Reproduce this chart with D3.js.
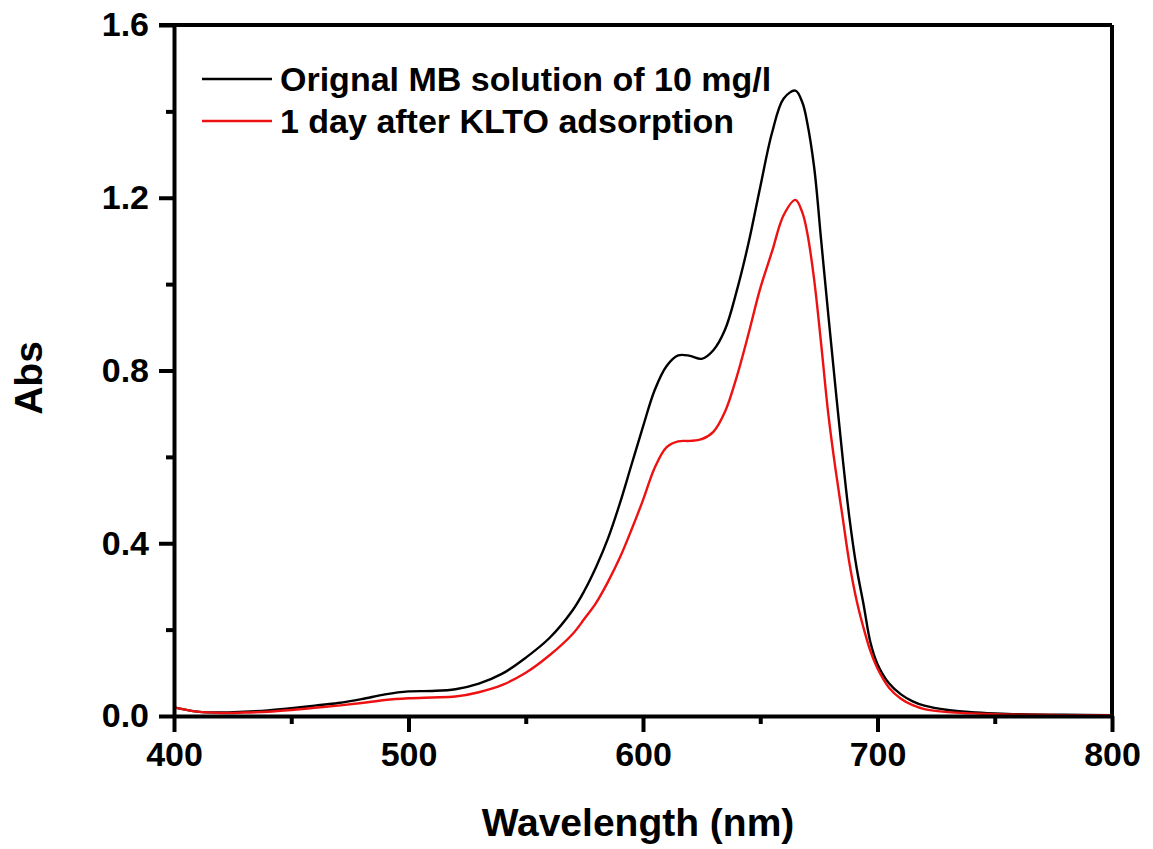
<!DOCTYPE html>
<html>
<head>
<meta charset="utf-8">
<script src="https://cdn.jsdelivr.net/npm/d3@7"></script>
<style>
  body { margin: 0; background: #fff; }
  text { font-family: "Liberation Sans", Arial, sans-serif; font-weight: bold; }
</style>
</head>
<body>
<div id="chart"></div>
<script>
// données
const longueurs = [400, 410, 420, 430, 440, 450, 460, 470, 480, 490, 500, 510, 520, 530, 540, 550, 560, 570, 575, 580,
    585, 590, 595, 600, 605, 610, 615, 620, 625, 630, 635, 640, 645, 650, 655, 660, 665, 668, 670, 673, 676,
    679, 682, 685, 688, 691, 694, 697, 700, 705, 710, 715, 720, 730, 740, 750, 760, 780, 800];

const origine = [0.020, 0.010, 0.008, 0.010, 0.013, 0.018, 0.024, 0.030, 0.039, 0.050, 0.057, 0.058, 0.062, 0.075, 0.098, 0.135, 0.180, 0.245, 0.290, 0.345,
    0.410, 0.490, 0.580, 0.670, 0.755, 0.810, 0.835, 0.834, 0.827, 0.847, 0.895, 0.985, 1.095, 1.225, 1.350, 1.430, 1.448, 1.420, 1.375, 1.270, 1.100,
    0.930, 0.765, 0.605, 0.460, 0.346, 0.260, 0.170, 0.120, 0.075, 0.050, 0.034, 0.024, 0.014, 0.009, 0.006, 0.004, 0.003, 0.002];

const apresKLTO = [0.020, 0.010, 0.007, 0.008, 0.010, 0.014, 0.019, 0.024, 0.030, 0.037, 0.041, 0.043, 0.045, 0.055, 0.072, 0.100, 0.140, 0.190, 0.225, 0.262,
    0.310, 0.365, 0.430, 0.500, 0.575, 0.622, 0.636, 0.637, 0.641, 0.658, 0.705, 0.786, 0.885, 0.990, 1.075, 1.160, 1.195, 1.165, 1.120, 1.010, 0.860,
    0.700, 0.575, 0.465, 0.355, 0.270, 0.205, 0.150, 0.110, 0.065, 0.040, 0.025, 0.016, 0.009, 0.006, 0.004, 0.003, 0.002, 0.002];

const series = [
    { nom: "Orignal MB solution of 10 mg/l", valeurs: origine, couleur: "#000000" },
    { nom: "1 day after KLTO adsorption", valeurs: apresKLTO, couleur: "#ee1111" }
];

const ticksX = [400, 500, 600, 700, 800];
const ticksY = [0.0, 0.4, 0.8, 1.2, 1.6];

//marges
var margin = { top: 25, right: 41, bottom: 133, left: 174 },
    width = 1153 - margin.left - margin.right,
    height = 849 - margin.top - margin.bottom;

const svg = d3.select("#chart")
    .append("svg")
    .attr("width", 1153)
    .attr("height", 849)
    .append("g")
    .attr("transform", "translate(" + margin.left + "," + margin.top + ")");

var x = d3.scaleLinear().domain([400, 800]).range([0, width]);
var y = d3.scaleLinear().domain([0, 1.6]).range([height, 0]);

// courbes
const ligne = d3.line()
    .x((d, i) => x(longueurs[i]))
    .y(d => y(d))
    .curve(d3.curveCatmullRom.alpha(0.5));

series.forEach(s => {
    svg.append("path")
        .attr("d", ligne(s.valeurs))
        .attr("fill", "none")
        .attr("stroke", s.couleur)
        .attr("stroke-width", 2.4);
});

// cadre haut et droite
svg.append("line")
    .attr("x1", -15).attr("x2", width)
    .attr("y1", 0).attr("y2", 0)
    .attr("stroke", "#000").attr("stroke-width", 4);
svg.append("line")
    .attr("x1", width).attr("x2", width)
    .attr("y1", 0).attr("y2", height)
    .attr("stroke", "#000").attr("stroke-width", 4);

// petites graduations
svg.append("g")
    .attr("transform", "translate(0," + height + ")")
    .call(d3.axisBottom(x).tickValues(d3.range(450, 800, 100)).tickSize(8).tickFormat(""))
    .call(g => g.select(".domain").remove())
    .selectAll("line").attr("stroke-width", 4);
svg.append("g")
    .call(d3.axisLeft(y).tickValues([0.2, 0.6, 1.0, 1.4]).tickSize(8).tickFormat(""))
    .call(g => g.select(".domain").remove())
    .selectAll("line").attr("stroke-width", 4);

// Axe x
const axeX = svg.append("g")
    .attr("transform", "translate(0," + height + ")")
    .call(d3.axisBottom(x).tickValues(ticksX).tickSize(16).tickSizeOuter(0).tickPadding(10).tickFormat(d3.format("d")));
axeX.select(".domain").attr("stroke-width", 4);
axeX.selectAll("line").attr("stroke-width", 4);
axeX.selectAll("text").attr("font-size", 34).attr("fill", "#000");

// Axe y
const axeY = svg.append("g")
    .call(d3.axisLeft(y).tickValues(ticksY).tickSize(15).tickSizeOuter(0).tickPadding(10).tickFormat(d3.format(".1f")));
axeY.select(".domain").attr("stroke-width", 4);
axeY.selectAll("line").attr("stroke-width", 4);
axeY.selectAll("text").attr("font-size", 34).attr("fill", "#000");

// titres
svg.append("text")
    .attr("x", x(600) - 5)
    .attr("y", height + 120)
    .attr("text-anchor", "middle")
    .attr("font-size", 39)
    .text("Wavelength (nm)");

svg.append("text")
    .attr("transform", "translate(" + (42 - margin.left) + "," + (378 - margin.top) + ") rotate(-90)")
    .attr("text-anchor", "middle")
    .attr("font-size", 39)
    .text("Abs");

// légende
const legende = svg.append("g").attr("transform", "translate(28,54)");
series.forEach((s, i) => {
    legende.append("line")
        .attr("x1", 0).attr("x2", 70)
        .attr("y1", i * 42).attr("y2", i * 42)
        .attr("stroke", s.couleur).attr("stroke-width", 2.4);
    legende.append("text")
        .attr("x", 78)
        .attr("y", i * 42 + 12)
        .attr("font-size", 34)
        .text(s.nom);
});
</script>
</body>
</html>
